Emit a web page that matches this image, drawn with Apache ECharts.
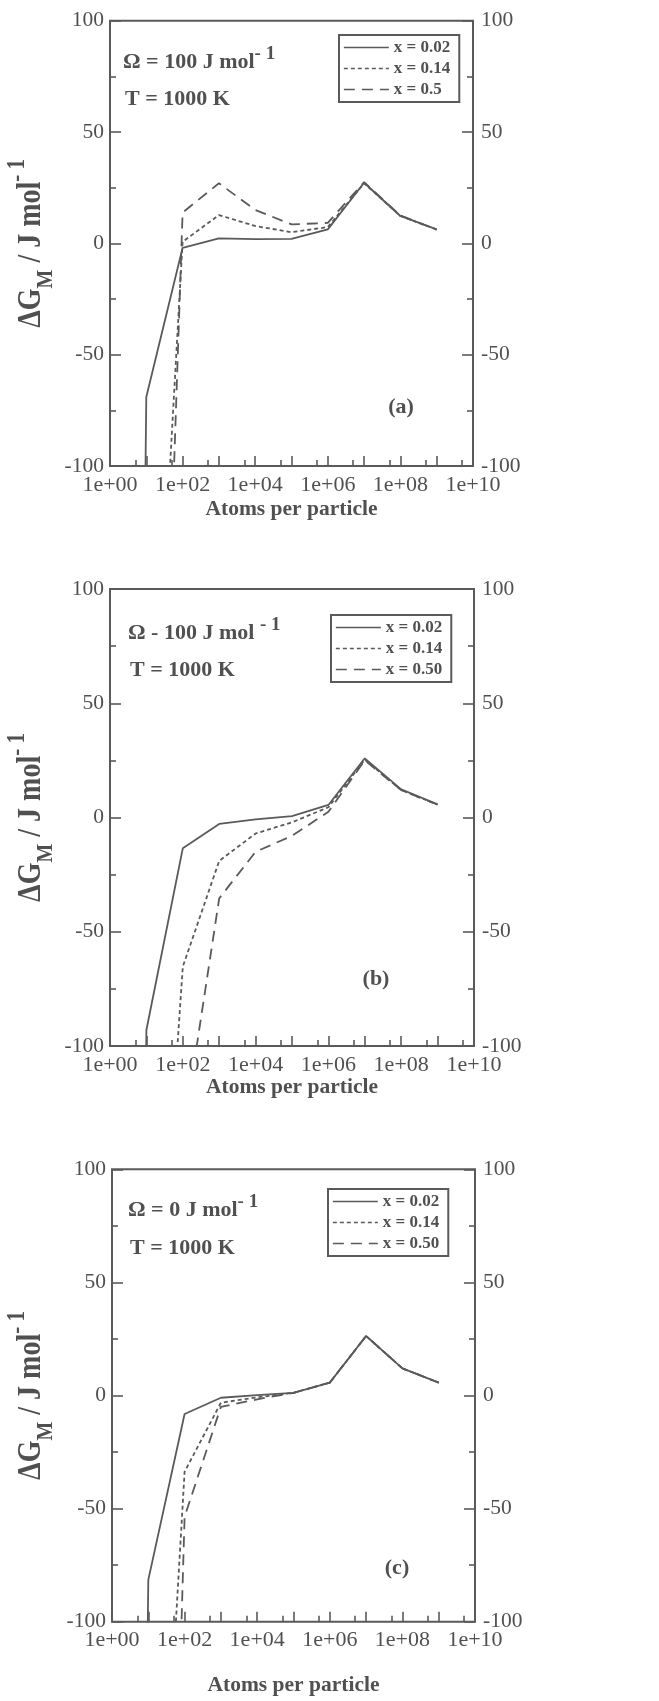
<!DOCTYPE html>
<html>
<head>
<meta charset="utf-8">
<title>Mixing free energy of nanoparticles</title>
<script src="https://cdn.jsdelivr.net/npm/echarts@6/dist/echarts.min.js"></script>
<style>
  html, body { margin: 0; padding: 0; background: #ffffff; overflow: hidden; }
  #chart { width: 659px; height: 1701px; }
</style>
</head>
<body>
<div id="chart"></div>
<script>
// Particle sizes (atoms per particle) at which ΔG_M was evaluated
const atoms = [1, 10, 100, 1e3, 1e4, 1e5, 1e6, 1e7, 1e8, 1e9];

// (a) Ω = 100 J/mol, T = 1000 K   (null = not computed)
const dGa_x002 = [-1500, -69, -2.0, 2.2, 1.9, 2.0, 6.3, 27.2, 12.3, 6.3];
const dGa_x014 = [null, -290, 0.7, 12.7, 7.8, 5.0, 7.3, 27.0, 12.3, 6.2];
const dGa_x050 = [null, -470, 13.8, 27.0, 15.0, 8.5, 9.2, 27.5, 12.5, 6.1];

// (b) Ω = -100 J/mol, T = 1000 K
const dGb_x002 = [-1500, -93, -13.5, -2.8, -0.8, 0.6, 5.5, 25.9, 12.3, 5.8];
const dGb_x014 = [null, -300, -65.3, -19.0, -7.0, -2.1, 4.5, 25.3, 12.0, 5.6];
const dGb_x050 = [null, null, -140, -35.4, -15.0, -8.0, 2.5, 25.0, 12.0, 5.6];

// (c) Ω = 0 J/mol, T = 1000 K
const dGc_x002 = [-1500, -81.5, -8.2, -1.0, 0.2, 1.2, 5.7, 26.3, 12.0, 5.7];
const dGc_x014 = [null, -310, -33.7, -3.2, -0.8, 1.2, 5.7, 26.3, 12.0, 5.7];
const dGc_x050 = [null, -600, -53.6, -5.0, -1.7, 1.2, 5.7, 26.3, 12.0, 5.7];

// Axis ticks
const xLabelValues = [1, 1e2, 1e4, 1e6, 1e8, 1e10];
const xMajorTicks = [10, 1e2, 1e3, 1e4, 1e5, 1e6, 1e7, 1e8, 1e9];
const xMinorTicks = [5, 50, 5e2, 5e3, 5e4, 5e5, 5e6, 5e7, 5e8, 5e9];
const yMin = -100, yMax = 100, yStep = 50;

// Legend / series names per plate
const namesA = ['x = 0.02', 'x = 0.14', 'x = 0.5'];
const namesBC = ['x = 0.02', 'x = 0.14', 'x = 0.50'];

const serif = "'Liberation Serif', 'Times New Roman', serif";
const ink = '#505050';
const lineInk = '#5a5a5a';

// layout of the three plates
const plates = [
  { grid: { left: 110, top: 20.7, width: 363, height: 445.3 }, nameGap: 43,
    legend: { left: 339, top: 35 }, names: namesA,
    data: [dGa_x002, dGa_x014, dGa_x050],
    omega: { x: 123, y: 62, text: 'Ω = 100 J mol', gap: '' },
    temp: { x: 125, y: 99 }, tag: { x: 401, y: 407, text: '(a)' } },
  { grid: { left: 110, top: 589, width: 364, height: 457 }, nameGap: 38,
    legend: { left: 331, top: 615 }, names: namesBC,
    data: [dGb_x002, dGb_x014, dGb_x050],
    omega: { x: 128, y: 633, text: 'Ω - 100 J mol', gap: ' ' },
    temp: { x: 130, y: 670 }, tag: { x: 376, y: 979, text: '(b)' } },
  { grid: { left: 112, top: 1169.3, width: 363, height: 452.4 }, nameGap: 64,
    legend: { left: 328, top: 1189 }, names: namesBC,
    data: [dGc_x002, dGc_x014, dGc_x050],
    omega: { x: 128, y: 1210, text: 'Ω = 0 J mol', gap: '' },
    temp: { x: 130, y: 1248 }, tag: { x: 397, y: 1568, text: '(c)' } }
];

const dashStyles = ['solid', [4, 3], [11, 7]];

function pairs(values) {
  const out = [];
  values.forEach((v, i) => { if (v !== null) out.push([atoms[i], v]); });
  return out;
}

function expLabel(v) {
  const e = Math.round(Math.log10(v));
  return '1e+' + String(e).padStart(2, '0');
}

const option = {
  animation: false,
  backgroundColor: '#ffffff',
  grid: [], xAxis: [], yAxis: [], series: [], legend: [], graphic: []
};

plates.forEach((p, i) => {
  option.grid.push(Object.assign({
    show: true, borderColor: lineInk, borderWidth: 2, backgroundColor: 'transparent'
  }, p.grid));

  const tickLine = { color: lineInk, width: 1.6 };
  // bottom axis: decade ticks, labels every second decade
  option.xAxis.push({
    gridIndex: i, type: 'log', logBase: 10, min: 1, max: 1e10, position: 'bottom',
    axisLine: { show: false, onZero: false },
    axisTick: { show: true, inside: true, length: 10, customValues: xMajorTicks, lineStyle: tickLine },
    axisLabel: { show: true, customValues: xLabelValues, formatter: expLabel, margin: 8,
                 fontFamily: serif, fontSize: 22, color: ink },
    splitLine: { show: false }, minorTick: { show: false },
    name: 'Atoms per particle', nameLocation: 'middle', nameGap: p.nameGap,
    nameTextStyle: { fontFamily: serif, fontWeight: 'bold', fontSize: 21.5, color: ink, verticalAlign: 'middle' }
  });
  // bottom axis: short ticks at 5 x 10^n
  option.xAxis.push({
    gridIndex: i, type: 'log', logBase: 10, min: 1, max: 1e10, position: 'bottom',
    axisLine: { show: false, onZero: false },
    axisTick: { show: true, inside: true, length: 6, customValues: xMinorTicks, lineStyle: tickLine },
    axisLabel: { show: false }, splitLine: { show: false }
  });
  ['left', 'right'].forEach(side => {
    option.yAxis.push({
      gridIndex: i, type: 'value', min: yMin, max: yMax, interval: yStep, position: side,
      axisLine: { show: false, onZero: false },
      axisTick: { show: true, inside: true, length: 11, lineStyle: tickLine },
      minorTick: { show: true, splitNumber: 2, length: 6, lineStyle: tickLine },
      axisLabel: { margin: side === 'left' ? 6 : 8, fontFamily: serif, fontSize: 21.5, color: ink },
      splitLine: { show: false }, minorSplitLine: { show: false }
    });
  });

  p.data.forEach((vals, k) => {
    option.series.push({
      type: 'line', name: p.names[k], xAxisIndex: 2 * i, yAxisIndex: 2 * i,
      data: pairs(vals), symbol: 'none', clip: true, z: 3 - k,
      lineStyle: { color: lineInk, width: 1.8, type: dashStyles[k] },
      itemStyle: { color: lineInk }
    });
  });

  option.legend.push({
    orient: 'vertical', left: p.legend.left, top: p.legend.top, data: p.names,
    selectedMode: false, itemWidth: 45, itemHeight: 12, itemGap: 4,
    padding: [4, 9, 4, 4], borderColor: lineInk, borderWidth: 2, borderRadius: 0,
    itemStyle: { opacity: 0, borderWidth: 0 },
    lineStyle: { width: 1.7 },
    textStyle: { fontFamily: serif, fontWeight: 'bold', fontSize: 17, lineHeight: 17, color: ink }
  });

  const boldRich = {
    m: { fontFamily: serif, fontWeight: 'bold', fontSize: 22, lineHeight: 34, fill: ink },
    p: { fontFamily: serif, fontWeight: 'bold', fontSize: 19, lineHeight: 20, verticalAlign: 'top', fill: ink }
  };
  option.graphic.push({
    type: 'text', x: p.omega.x, y: p.omega.y,
    style: { text: '{m|' + p.omega.text + p.omega.gap + '}{p|- 1}', rich: boldRich,
             align: 'left', verticalAlign: 'middle', textAlign: 'left', textVerticalAlign: 'middle' }
  });
  option.graphic.push({
    type: 'text', x: p.temp.x, y: p.temp.y,
    style: { text: 'T = 1000 K', font: 'bold 22px ' + serif, fill: ink,
             align: 'left', verticalAlign: 'middle', textAlign: 'left', textVerticalAlign: 'middle' }
  });
  option.graphic.push({
    type: 'text', x: p.tag.x, y: p.tag.y,
    style: { text: p.tag.text, font: 'bold 22px ' + serif, fill: ink,
             align: 'center', verticalAlign: 'middle', textAlign: 'center', textVerticalAlign: 'middle' }
  });
  // vertical axis title, read bottom to top
  option.graphic.push({
    type: 'text', x: 31, y: p.grid.top + p.grid.height / 2, rotation: Math.PI / 2, scaleY: 1.2,
    style: {
      text: '{m|ΔG}{s|M}{m| / J mol}{p|- 1}',
      rich: {
        m: { fontFamily: serif, fontWeight: 'bold', fontSize: 28, lineHeight: 44, fill: ink },
        s: { fontFamily: serif, fontWeight: 'bold', fontSize: 20, lineHeight: 24, verticalAlign: 'bottom', fill: ink },
        p: { fontFamily: serif, fontWeight: 'bold', fontSize: 21, lineHeight: 22, verticalAlign: 'top', fill: ink }
      },
      align: 'center', verticalAlign: 'middle', textAlign: 'center', textVerticalAlign: 'middle'
    }
  });
});

const chart = echarts.init(document.getElementById('chart'), null, { renderer: 'canvas' });
chart.setOption(option);
</script>
</body>
</html>
